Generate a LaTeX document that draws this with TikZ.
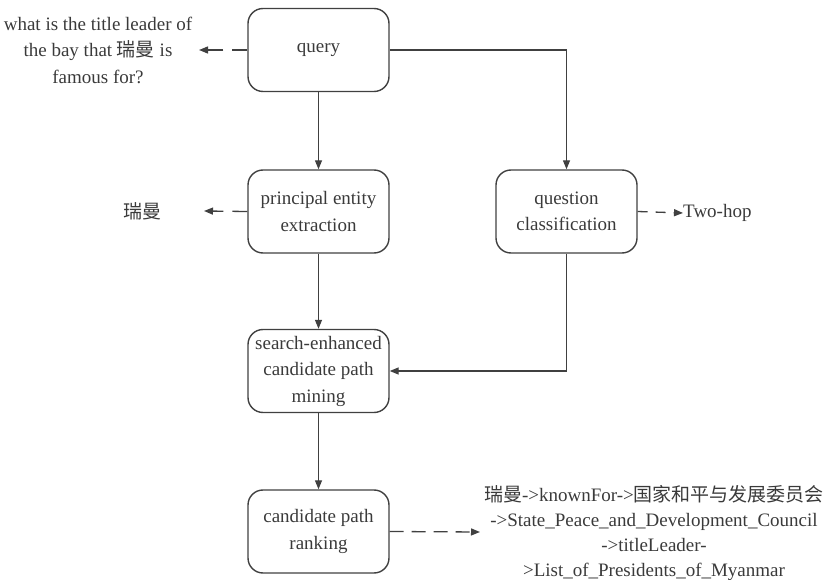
\documentclass[tikz,border=0pt]{standalone}
\usepackage{fontspec}
\setmainfont{Liberation Serif}
\newfontfamily\cjk{Noto Sans CJK SC}
\usetikzlibrary{arrows.meta}
\definecolor{ink}{HTML}{404040}
\definecolor{txt}{HTML}{3A3A3A}
\begin{document}
\begin{tikzpicture}[x=1pt,y=-1pt,
  font=\fontsize{19}{26.5}\selectfont,
  stepbox/.style={draw=ink,line width=1.4pt,rounded corners=15pt,
    minimum width=141pt,minimum height=83pt,align=center,text=txt,inner sep=2pt},
  lbl/.style={align=center,text=txt,inner sep=0pt},
  flow/.style={draw=ink,line width=1.3pt,-{Triangle[length=9pt,width=7pt]}},
  side/.style={flow,dash pattern=on 15pt off 9pt}]
\useasboundingbox (0,0) rectangle (828,580);
% main boxes
\node[stepbox] (q)  at (318.5,50)  {query};
\node[stepbox] (pe) at (318.5,211.5) {principal entity\\extraction};
\node[stepbox] (qc) at (566.5,211.5) {question\\classification};
\node[stepbox] (se) at (318.5,371) {search-enhanced\\candidate path\\mining};
\node[stepbox] (cr) at (318.5,531.5) {candidate path\\ranking};
% side texts
\node[lbl] (qt) at (98,50) {what is the title leader of\\the bay that {\cjk 瑞曼} is\\famous for?};
\node[lbl,anchor=east] (ent) at (162,211) {\cjk 瑞曼};
\node[lbl,anchor=west] (hop) at (683,213) {Two-hop};
\node[lbl,font=\fontsize{19}{25.3}\selectfont] (path) at (654,533)
  {{\cjk 瑞曼}->knownFor->{\cjk 国家和平与发展委员会}\\->State\_Peace\_and\_Development\_Council\\->titleLeader-\\>List\_of\_Presidents\_of\_Myanmar};
\coordinate (qe) at (199,50);
\coordinate (ee) at (204,211);
\coordinate (pe2) at (480,532);
% main flow
\draw[flow] (q) -- (pe);
\draw[flow] (pe) -- (se);
\draw[flow] (se) -- (cr);
\draw[flow] (q.east) -| (qc.north);
\draw[flow] (qc.south) |- (se.east);
% side outputs
\draw[side] (q.west) -- (qe);
\draw[side] (pe.west) -- (ee);
\draw[flow,dash pattern=on 10pt off 8pt] (qc.east) -- (hop.west);
\draw[flow,dash pattern=on 14pt off 8pt] (cr.east) -- (pe2);
\end{tikzpicture}
\end{document}
